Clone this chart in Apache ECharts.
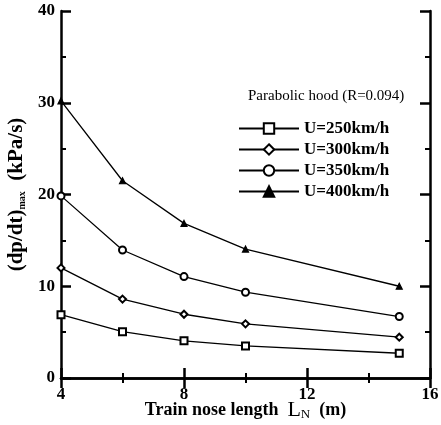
<!DOCTYPE html>
<html><head><meta charset="utf-8">
<script src="https://cdn.jsdelivr.net/npm/echarts@6/dist/echarts.min.js"></script>
<style>html,body{margin:0;padding:0;background:#fff}#c{width:441px;height:425px}</style>
</head><body><div id="c"></div>
<script>
const noseLength = [4, 6, 8, 10, 15];
const u250 = [6.9, 5.05, 4.05, 3.5, 2.7];
const u300 = [12.0, 8.6, 6.95, 5.9, 4.45];
const u350 = [19.85, 13.95, 11.05, 9.35, 6.7];
const u400 = [30.2, 21.5, 16.85, 14.05, 10.0];
const seriesNames = ['U=250km/h', 'U=300km/h', 'U=350km/h', 'U=400km/h'];
const xTicks = [4, 8, 12, 16];
const yTicks = [0, 10, 20, 30, 40];

const font = 'Liberation Serif';
const pair = arr => noseLength.map((x, i) => [x, arr[i]]);
const mk = (name, data, symbol, size) => ({
  name, type: 'line', data: pair(data), symbol, symbolSize: size,
  lineStyle: {color: '#000', width: 1.3},
  itemStyle: {color: '#000', borderColor: '#000', borderWidth: 1.2},
  xAxisIndex: 0, yAxisIndex: 0
});
const axisCommon = {
  axisLine: {show: true, lineStyle: {color: '#000', width: 2.5}},
  axisTick: {show: true, inside: true, length: 10, lineStyle: {color: '#000', width: 2.5}},
  minorTick: {show: true, splitNumber: 2, length: 5, lineStyle: {color: '#000', width: 2}},
  splitLine: {show: false}
};
const chart = echarts.init(document.getElementById('c'));
chart.setOption({
  animation: false,
  backgroundColor: '#fff',
  grid: {left: 61, right: 11, top: 11, bottom: 47, containLabel: false, outerBoundsMode: 'none'},
  title: {
    text: 'Parabolic hood (R=0.094)', left: 243, top: 84,
    textStyle: {fontFamily: font, fontSize: 15, fontWeight: 'normal', color: '#000'}
  },
  legend: {
    orient: 'vertical', left: 233, top: 115, itemWidth: 60, itemHeight: 13, itemGap: 4,
    data: seriesNames,
    textStyle: {fontFamily: font, fontSize: 17, fontWeight: 'bold', color: '#000'}
  },
  xAxis: [
    Object.assign({type: 'value', min: xTicks[0], max: xTicks[xTicks.length-1], interval: 4, position: 'bottom',
      name: '{a|Train nose length  }{b|L}{s|N}{a|  (m)}', nameLocation: 'middle', nameGap: 21, nameMoveOverlap: false,
      nameTextStyle: {rich: {
        a: {fontFamily: font, fontSize: 18, fontWeight: 'bold', color: '#000'},
        b: {fontFamily: font, fontSize: 22, color: '#000'},
        s: {fontFamily: font, fontSize: 13, color: '#000', verticalAlign: 'bottom', padding: [8,0,0,0]}
      }},
      axisLabel: {fontFamily: font, fontSize: 17, fontWeight: 'bold', color: '#000', margin: 8}
    }, axisCommon),
    Object.assign({type: 'value', min: 4, max: 16, interval: 4, position: 'top', axisLabel: {show: false}}, axisCommon)
  ],
  yAxis: [
    Object.assign({type: 'value', min: yTicks[0], max: yTicks[yTicks.length-1], interval: 10,
      name: '{a|(dp/dt)}{s|max}{a|  (kPa/s)}', nameLocation: 'middle', nameGap: 33, nameRotate: 90,
      nameTextStyle: {rich: {
        a: {fontFamily: font, fontSize: 21, fontWeight: 'bold', color: '#000'},
        s: {fontFamily: font, fontSize: 10, fontWeight: 'bold', color: '#000', padding: [12,0,0,0]}
      }},
      axisLabel: {fontFamily: font, fontSize: 17, fontWeight: 'bold', color: '#000', margin: 6}
    }, axisCommon),
    Object.assign({type: 'value', min: 0, max: 40, interval: 10, position: 'right', axisLabel: {show: false}}, axisCommon)
  ],
  series: [
    mk(seriesNames[0], u250, 'emptyRect', 7),
    mk(seriesNames[1], u300, 'emptyDiamond', 7),
    mk(seriesNames[2], u350, 'emptyCircle', 7),
    mk(seriesNames[3], u400, 'triangle', 6)
  ]
});
</script></body></html>
